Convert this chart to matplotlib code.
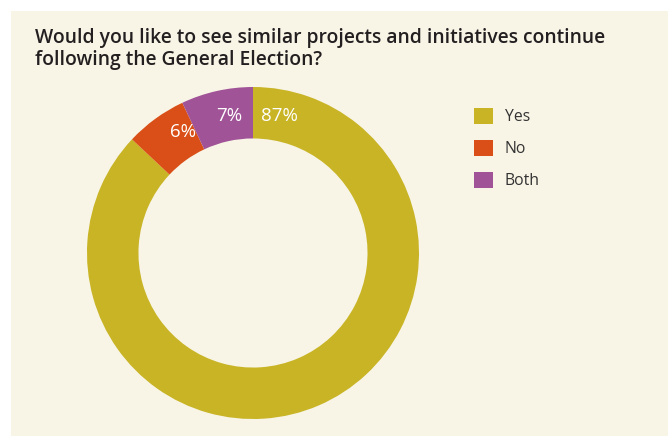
import matplotlib
matplotlib.use("Agg")
import numpy as np
import matplotlib.pyplot as plt
from matplotlib.patches import Rectangle, Patch

plt.rcParams['font.family'] = ['Open Sans', 'DejaVu Sans']

# survey answers
answers = ['Yes', 'No', 'Both']
shares = [87, 6, 7]
colours = ['#c8b425', '#d94f17', '#a05497']
label_angles = [11, 30, 10]   # degrees from 12 o'clock, where each % label sits

title = 'Would you like to see similar projects and initiatives continue\nfollowing the General Election?'
bg = '#f8f4e6'

fig = plt.figure(figsize=(6.68, 4.36), dpi=100)
fig.patch.set_facecolor('white')
fig.patches.append(Rectangle((11 / 668, 0), 1, 1 - 11 / 436, transform=fig.transFigure,
                             facecolor=bg, edgecolor='none', zorder=-10))

fig.text(35 / 668, 1 - 28 / 436, title, ha='left', va='top', fontsize=13.9,
         fontweight='semibold', color='#231f20', linespacing=1.15)

ax = fig.add_axes([87 / 668, 17 / 436, 332 / 668, 332 / 436])
width = 0.31
wedges, _ = ax.pie(shares, colors=colours, startangle=90, counterclock=False, radius=1,
                   wedgeprops=dict(width=width, edgecolor='none'))
ax.set_xlim(-1, 1)
ax.set_ylim(-1, 1)
ax.set_aspect('equal')
ax.axis('off')

# percentage labels inside the ring; Yes runs clockwise, No/Both sit left of 12 o'clock
r_lab = 0.84
for i, (val, ang) in enumerate(zip(shares, label_angles)):
    a = np.deg2rad(90 - ang) if i == 0 else np.deg2rad(90 + ang)
    ax.text(r_lab * np.cos(a), r_lab * np.sin(a), f'{val}%', ha='center', va='center',
            color='white', fontsize=13.5)

handles = [Patch(facecolor=c, edgecolor='none') for c in colours]
fig.legend(handles, answers, loc='upper left', bbox_to_anchor=(474 / 668, 1 - 108 / 436),
           frameon=False, fontsize=11.3, handlelength=1.22, handleheight=1.22,
           handletextpad=0.75, labelspacing=0.92, labelcolor='#333333', borderpad=0,
           borderaxespad=0)

fig.savefig('out.png', dpi=100, facecolor=fig.get_facecolor())
